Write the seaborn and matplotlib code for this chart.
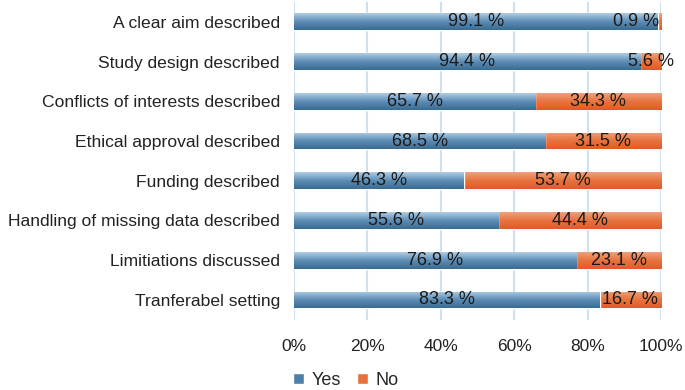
import numpy as np
import pandas as pd
import matplotlib
matplotlib.use("Agg")
import matplotlib.pyplot as plt
import seaborn as sns
from matplotlib.colors import LinearSegmentedColormap
from matplotlib.patches import Patch

categories = [
    "A clear aim described",
    "Study design described",
    "Conflicts of interests described",
    "Ethical approval described",
    "Funding described",
    "Handling of missing data described",
    "Limitiations discussed",
    "Tranferabel setting",
]
yes_values = [99.1, 94.4, 65.7, 68.5, 46.3, 55.6, 76.9, 83.3]
no_values = [0.9, 5.6, 34.3, 31.5, 53.7, 44.4, 23.1, 16.7]
tick_labels = ["0%", "20%", "40%", "60%", "80%", "100%"]

sns.set_theme(style="white")
plt.rcParams["font.family"] = ["Liberation Sans", "DejaVu Sans"]

df = pd.DataFrame({"cat": categories, "yes": yes_values, "no": no_values})
df["total"] = df["yes"] + df["no"]

fig = plt.figure(figsize=(6.85, 3.9), dpi=100)
ax = fig.add_axes([0.429, 0.18, 0.536, 0.815])

blue_mid = "#4d7fa8"
orange_mid = "#e8703a"

sns.barplot(data=df, y="cat", x="total", orient="h", color=orange_mid,
            width=0.42, saturation=1, ax=ax, zorder=2)
sns.barplot(data=df, y="cat", x="yes", orient="h", color=blue_mid,
            width=0.42, saturation=1, ax=ax, zorder=3)

# gradient fills clipped to bars
blue_cmap = LinearSegmentedColormap.from_list("b", ["#3a6b93", "#5d8db5", "#b0cde3"])
orange_cmap = LinearSegmentedColormap.from_list("o", ["#e05a28", "#e8733f", "#eea07c"])
grad = np.linspace(0, 1, 64).reshape(-1, 1)
n = len(categories)
for i, p in enumerate(ax.patches):
    cmap = orange_cmap if i < n else blue_cmap
    x0, y0 = p.get_x(), p.get_y()
    w, h = p.get_width(), p.get_height()
    im = ax.imshow(grad, cmap=cmap, aspect="auto",
                   extent=[x0, x0 + w, y0 + h, y0], origin="lower",
                   zorder=p.get_zorder() + 0.5, interpolation="bilinear")
    im.set_clip_path(p)

# labels
for i, (y, nv) in enumerate(zip(yes_values, no_values)):
    ax.text(y / 2, i, f"{y:.1f} %", ha="center", va="center", fontsize=13,
            color="#1a1a1a", zorder=10)
    ax.text(y + nv / 2 if nv > 3 else 100 - 0.5, i, f"{nv:.1f} %",
            ha="center" if nv > 3 else "right", va="center", fontsize=13,
            color="#1a1a1a", zorder=10)

ax.set_xlim(0, 100)
ax.set_ylim(n - 0.5, -0.5)
ax.set_xticks(np.linspace(0, 100, 6))
ax.set_xticklabels(tick_labels, fontsize=12.5, color="#222222")
ax.tick_params(axis="y", labelsize=12.6, labelcolor="#222222", length=0, pad=10)
ax.tick_params(axis="x", length=0, pad=14)
ax.set_xlabel("")
ax.set_ylabel("")
for s in ax.spines.values():
    s.set_visible(False)
ax.xaxis.grid(True, color="#cfe0ef", linewidth=1.5, zorder=0)
ax.set_axisbelow(True)

handles = [Patch(facecolor=blue_mid, label="Yes"), Patch(facecolor=orange_mid, label="No")]
fig.legend(handles=handles, loc="center", bbox_to_anchor=(0.505, 0.025), ncol=2,
           frameon=False, fontsize=13, handlelength=0.6, handleheight=0.6,
           handletextpad=0.4, columnspacing=0.9)

fig.savefig("out.png", dpi=100)
